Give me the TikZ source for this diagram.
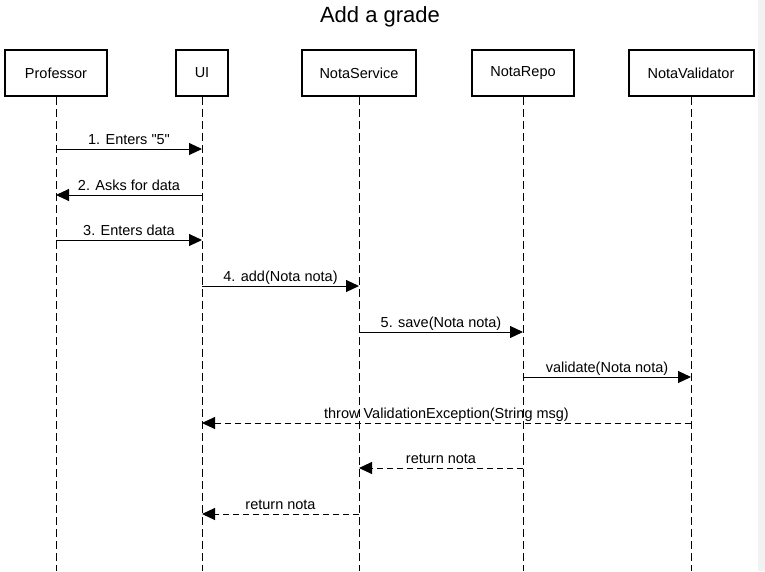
\documentclass[tikz,border=0pt]{standalone}
\usepackage{fontspec}
\setmainfont{Liberation Sans}[Ligatures=TeXOff]
\usetikzlibrary{arrows.meta,positioning,calc}

\begin{document}
\begin{tikzpicture}[x=1pt,y=-1pt,
        actor/.style={draw,line width=2pt,minimum height=46pt,font=\fontsize{14.5}{17}\selectfont},
        life/.style={line width=1pt,dash pattern=on 8pt off 4pt},
        call/.style={line width=1pt,-{Triangle[length=13pt,width=12pt]}},
        reply/.style={call,dash pattern=on 6pt off 4pt},
        lbl/.style={anchor=base,yshift=5pt,inner sep=0pt,font=\fontsize{14.5}{17}\selectfont}]
        \useasboundingbox (0,0) rectangle (765,571);
        \fill[black!5] (758,0) rectangle (765,571);
        \node[font=\fontsize{22}{26}\selectfont] (title) at (380,17) {Add a grade};
        % participants
        \node[actor,minimum width=102pt] (prof) at (56,73) {Professor};
        \node[actor,minimum width=52pt] (ui) at (202,73) {UI};
        \node[actor,minimum width=114pt] (service) at (359,73) {NotaService};
        \node[actor,minimum width=102pt] (repo) at (523,73) {NotaRepo};
        \node[actor,minimum width=125pt] (validator) at (691,73) {NotaValidator};
        \foreach \n in {prof,ui,service,repo,validator}
          \draw[life] (\n.south) -- (\n |- 0,571);
        % messages
        \draw[call] (prof |- 0,149) -- node[lbl]{1. Enters "5"} (ui |- 0,149);
        \draw[call] (ui |- 0,195) -- node[lbl]{2. Asks for data} (prof |- 0,195);
        \draw[call] (prof |- 0,240) -- node[lbl]{3. Enters data} (ui |- 0,240);
        \draw[call] (ui |- 0,286) -- node[lbl]{4. add(Nota nota)} (service |- 0,286);
        \draw[call] (service |- 0,332) -- node[lbl]{5. save(Nota nota)} (repo |- 0,332);
        \draw[call] (repo |- 0,377) -- node[lbl]{validate(Nota nota)} (validator |- 0,377);
        \draw[reply] (validator |- 0,423) -- node[lbl]{throw ValidationException(String msg)} (ui |- 0,423);
        \draw[reply] (repo |- 0,468) -- node[lbl]{return nota} (service |- 0,468);
        \draw[reply] (service |- 0,514) -- node[lbl]{return nota} (ui |- 0,514);
\end{tikzpicture}
\end{document}
